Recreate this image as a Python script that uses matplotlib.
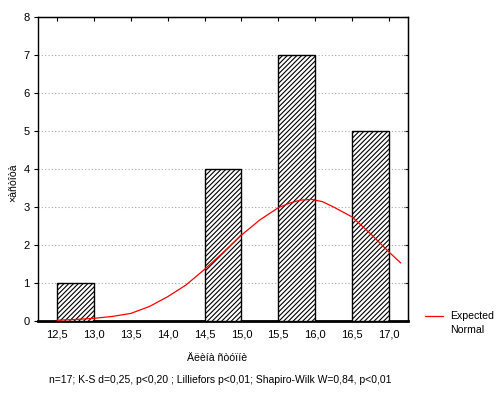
import numpy as np
import matplotlib
matplotlib.use("Agg")
import matplotlib.pyplot as plt

plt.rcParams['font.family'] = ['Liberation Sans', 'DejaVu Sans']
plt.rcParams['hatch.linewidth'] = 0.8

# histogram bins (left edges), width 0.5
bin_left = [12.5, 13.0, 13.5, 14.0, 14.5, 15.0, 15.5, 16.0, 16.5]
counts = [1, 0, 0, 0, 4, 0, 7, 0, 5]

# expected normal curve
curve_x = [12.5, 12.75, 13.0, 13.25, 13.5, 13.75, 14.0, 14.25, 14.5, 14.75, 15.0,
           15.25, 15.5, 15.65, 15.8, 15.95, 16.1, 16.25, 16.5, 16.75, 17.0, 17.16]
curve_y = [0.02, 0.04, 0.07, 0.12, 0.2, 0.38, 0.64, 0.95, 1.36, 1.8, 2.26,
           2.66, 2.98, 3.1, 3.18, 3.2, 3.14, 3.0, 2.74, 2.3, 1.82, 1.53]

xticks = [12.5, 13.0, 13.5, 14.0, 14.5, 15.0, 15.5, 16.0, 16.5, 17.0]
xticklabels = [f"{v:.1f}".replace('.', ',') for v in xticks]

fig = plt.figure(figsize=(5.02, 3.94), dpi=100)
ax = fig.add_axes([0.0757, 0.1853, 0.7370, 0.7716])

ax.bar(bin_left, counts, width=0.5, align='edge', facecolor='white',
       edgecolor='black', hatch='///////', linewidth=1.0, zorder=3)
ax.plot(curve_x, curve_y, color='red', linewidth=0.9, zorder=4)

ax.set_xlim(12.24, 17.26)
ax.set_ylim(0, 8)
ax.set_xticks(xticks)
ax.set_xticklabels(xticklabels)
ax.set_yticks(range(0, 9))

ax.yaxis.grid(True, linestyle=(0, (1, 2)), color='#aaaaaa', linewidth=0.8)
ax.set_axisbelow(True)

for s in ['top', 'right', 'left']:
    ax.spines[s].set_linewidth(1.0)
ax.spines['bottom'].set_linewidth(2.0)

ax.tick_params(axis='x', length=0, labelsize=8, pad=6)
ax.tick_params(axis='y', length=3, labelsize=8, direction='out', pad=3)
# inward ticks on top and right
ax2 = ax.secondary_xaxis('top')
ax2.set_xticks(xticks)
ax2.tick_params(direction='in', length=3)
ax2.set_xticklabels([])
ax3 = ax.secondary_yaxis('right')
ax3.set_yticks(range(0, 9))
ax3.tick_params(direction='in', length=3)
ax3.set_yticklabels([])

fig.text(217 / 502, 1 - 358 / 394, "Äëèíà ñòóïíè", fontsize=7.6, ha='center', va='center')
fig.text(13 / 502, 1 - 183 / 394, "×àñòîòà", fontsize=7.6, ha='center', va='center',
         rotation=90)

fig.text(220 / 502, 1 - 380 / 394,
         "n=17; K-S d=0,25, p<0,20 ; Lilliefors p<0,01; Shapiro-Wilk W=0,84, p<0,01",
         ha='center', va='center', fontsize=7.5)

# legend
fig.add_artist(plt.Line2D([0.847, 0.882], [1 - 316 / 394, 1 - 316 / 394],
                          color='red', linewidth=0.9))
fig.text(0.897, 1 - 316 / 394, "Expected", fontsize=7.6, va='center')
fig.text(0.897, 1 - 330 / 394, "Normal", fontsize=7.6, va='center')

fig.savefig("out.png", dpi=100)
